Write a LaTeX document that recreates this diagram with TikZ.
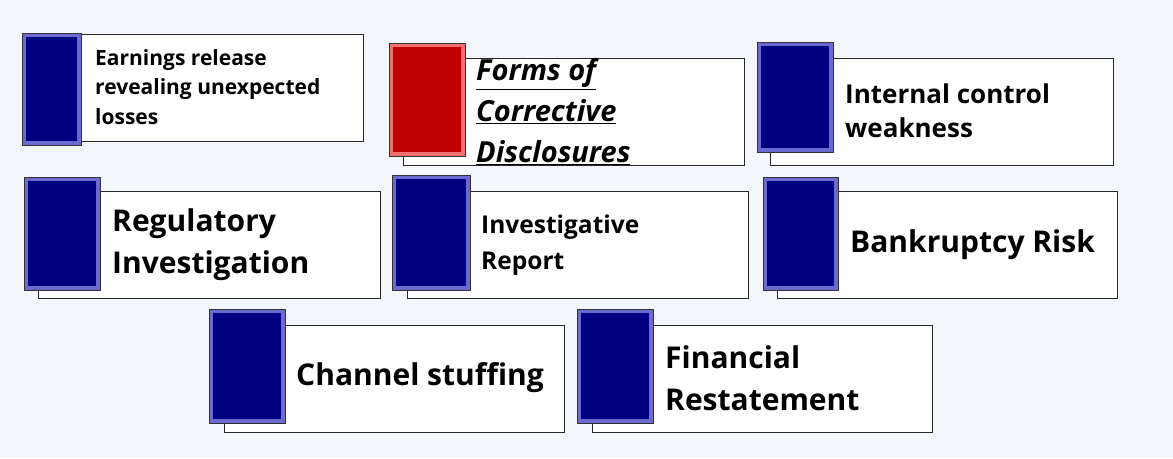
\documentclass[tikz,border=0pt]{standalone}
\usepackage{fontspec}
\setmainfont{Open Sans}
\definecolor{bg}{HTML}{F3F7FB}
\definecolor{navy}{HTML}{000080}
\definecolor{navyrim}{HTML}{6A6AD0}
\definecolor{redin}{HTML}{C00000}
\definecolor{redrim}{HTML}{F07070}
\tikzset{
 box/.style={draw=black!85,fill=white,line width=1pt},
 lbl/.style={anchor=west,align=left,font=\bfseries,inner sep=0pt}
}
\newcommand{\tabitem}[9]{%
 \draw[box] (#5,#6) rectangle (#7,#8);
 \fill[draw=black!80,line width=0.8pt,fill=#9rim] (#1,#2) rectangle (#3,#4);
 \fill[#9in] (#1+4,#2+4) rectangle (#3-4,#4-4);
}
\begin{document}
\begin{tikzpicture}[x=1pt,y=-1pt]
\colorlet{navyin}{navy}
\fill[bg] (0,0) rectangle (1173,458);
\useasboundingbox (0,0) rectangle (1173,458);
\tabitem{22}{33}{81}{145}{81}{34}{363}{141}{navy}
\node[lbl,font=\bfseries\fontsize{21}{29.5}\selectfont] (t1) at (95,87) {Earnings release\\revealing unexpected\\losses};
\tabitem{389}{43}{465}{156}{403}{58}{744}{165}{red}
\node[lbl,font=\bfseries\itshape\fontsize{29}{41}\selectfont] (t2) at (476,112) {\underline{Forms of}\\\underline{Corrective}\\\underline{Disclosures}};
\tabitem{757}{42}{833}{152}{770}{58}{1113}{165}{navy}
\node[lbl,font=\bfseries\fontsize{26}{34}\selectfont] (t3) at (845,111) {Internal control\\weakness};
\tabitem{24}{177}{100}{290}{38}{191}{380}{298}{navy}
\node[lbl,font=\bfseries\fontsize{30}{42}\selectfont] (t4) at (112,245) {Regulatory\\Investigation};
\tabitem{392}{175}{470}{290}{407}{191}{748}{298}{navy}
\node[lbl,font=\bfseries\fontsize{24.5}{36}\selectfont] (t5) at (481,245) {Investigative\\Report};
\tabitem{763}{177}{838}{290}{777}{191}{1117}{298}{navy}
\node[lbl,font=\bfseries\fontsize{30}{42}\selectfont] (t6) at (850,245) {Bankruptcy Risk};
\tabitem{209}{309}{285}{423}{224}{325}{564}{432}{navy}
\node[lbl,font=\bfseries\fontsize{30}{42}\selectfont] (t7) at (296,378) {Channel stuffing};
\tabitem{577}{309}{653}{423}{592}{325}{932}{432}{navy}
\node[lbl,font=\bfseries\fontsize{30}{42}\selectfont] (t8) at (665,378) {Financial\\Restatement};
\end{tikzpicture}
\end{document}
